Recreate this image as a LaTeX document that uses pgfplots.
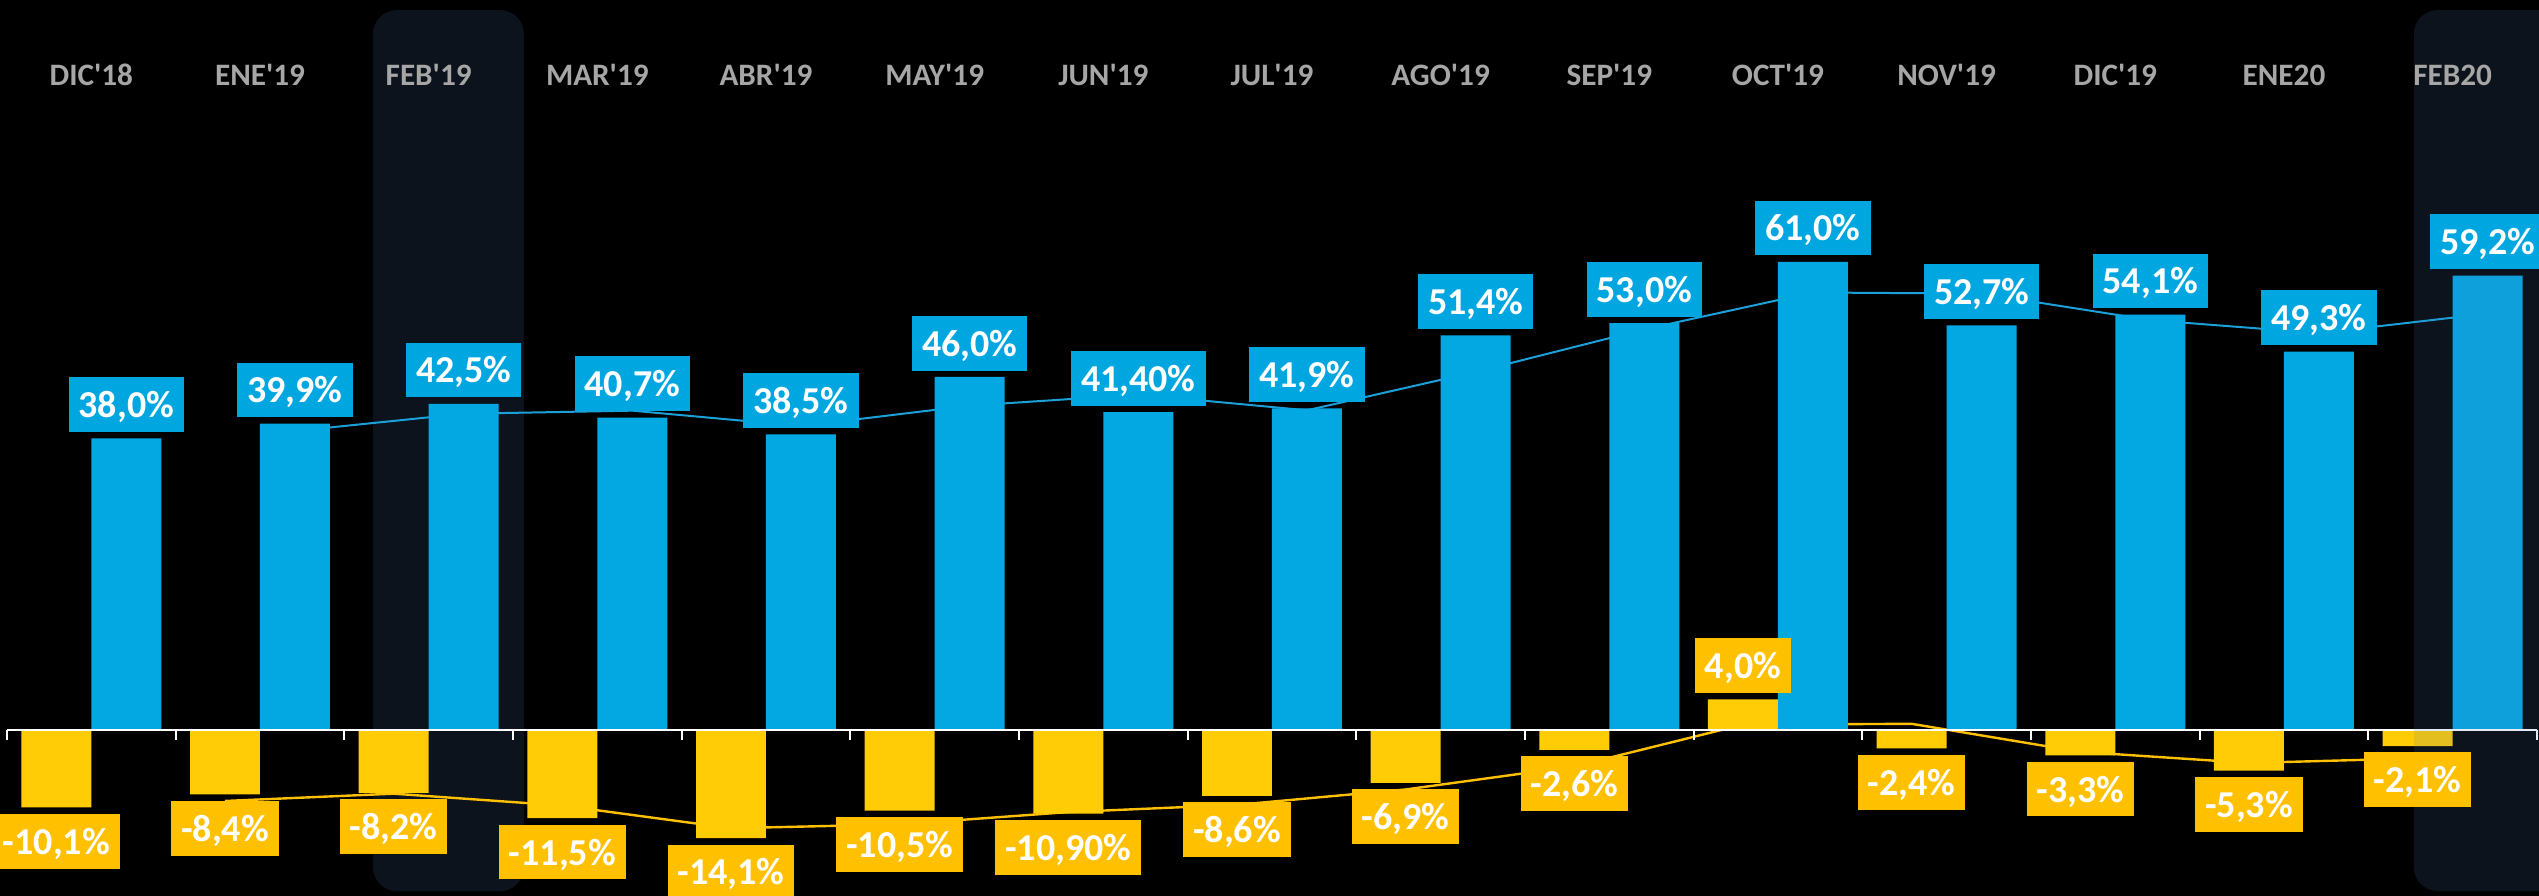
\documentclass[border=0pt]{standalone}
\usepackage{fontspec}
\setmainfont{Carlito}
\usepackage{pgfplots}
\usepackage{pgfplotstable}
\pgfplotsset{compat=1.18}
\definecolor{barblue}{HTML}{03A8E3}
\definecolor{boxblue}{HTML}{00A6E0}
\definecolor{baryel}{HTML}{FFCC05}
\definecolor{boxyel}{HTML}{FFC000}
\definecolor{lineblue}{HTML}{1BA0DA}
\definecolor{lineyel}{HTML}{FFC000}
\definecolor{hl}{HTML}{0C131C}
\definecolor{hlov}{RGB}{77,123,181}
\definecolor{monthgray}{HTML}{A6A6A6}

\pgfplotstableread{
x m b bl y yl
0 DIC\textquotesingle18 38.0 38,0 -10.1 -10,1
1 ENE\textquotesingle19 39.9 39,9 -8.4 -8,4
2 FEB\textquotesingle19 42.5 42,5 -8.2 -8,2
3 MAR\textquotesingle19 40.7 40,7 -11.5 -11,5
4 ABR\textquotesingle19 38.5 38,5 -14.1 -14,1
5 MAY\textquotesingle19 46.0 46,0 -10.5 -10,5
6 JUN\textquotesingle19 41.4 41,40 -10.9 -10,90
7 JUL\textquotesingle19 41.9 41,9 -8.6 -8,6
8 AGO\textquotesingle19 51.4 51,4 -6.9 -6,9
9 SEP\textquotesingle19 53.0 53,0 -2.6 -2,6
10 OCT\textquotesingle19 61.0 61,0 4.0 4,0
11 NOV\textquotesingle19 52.7 52,7 -2.4 -2,4
12 DIC\textquotesingle19 54.1 54,1 -3.3 -3,3
13 ENE20 49.3 49,3 -5.3 -5,3
14 FEB20 59.2 59,2 -2.1 -2,1
}\data

\tikzset{
  lab/.style={fill=#1, text=white, font=\fontsize{9.5}{10}\selectfont\bfseries,
    inner xsep=2.5pt, inner ysep=3.6pt, text height=6.5pt, text depth=0pt, outer sep=1.6pt},
}
\def\anc{south}

\begin{document}
\begin{tikzpicture}
\fill[black] (0,0) rectangle (634.75pt,224pt);
\begin{axis}[
  at={(0,0)}, anchor=south west,
  width=634.75pt, height=224pt, scale only axis,
  xmin=-0.5415, xmax=14.512, ymin=-21.63, ymax=95.11,
  axis lines=none, clip=false,
]
% highlight behind
\fill[hl, rounded corners=6pt] (axis cs:1.67,93.8) rectangle (axis cs:2.565,-21.0);

% moving average lines
\addplot[lineblue, line width=0.5pt, mark=none] coordinates {
(1.2075,38.95) (2.2075,41.2) (3.2075,41.6) (4.2075,39.6) (5.2075,42.25)
(6.2075,43.7) (7.2075,41.65) (8.2075,46.65) (9.2075,52.2) (10.2075,57.0)
(11.2075,56.85) (12.2075,53.4) (13.2075,51.7) (14.2075,54.25)};
\addplot[lineyel, line width=0.6pt, mark=none] coordinates {
(0.7925,-9.25) (1.7925,-8.3) (2.7925,-9.85) (3.7925,-12.8) (4.7925,-12.3)
(5.7925,-10.7) (6.7925,-9.75) (7.7925,-7.75) (8.7925,-4.75) (9.7925,0.7)
(10.7925,0.8) (11.7925,-2.85) (12.7925,-4.3) (13.7925,-3.7)};

% blue bars
\addplot[ybar, bar width=0.415, bar shift=0.2075, fill=barblue, draw=none,
  point meta=explicit symbolic, nodes near coords={\pgfplotspointmeta\%},
  every node near coord/.append style={lab=boxblue, xshift=8.75pt, anchor=south}]
  table[x=x, y=b, meta=bl] {\data};
% yellow bars
\addplot[ybar, bar width=0.415, bar shift=-0.2075, fill=baryel, draw=none,
  point meta=explicit symbolic, nodes near coords={\pgfplotspointmeta\%},
  visualization depends on={y \as \yv},
  every node near coord/.append style={lab=boxyel, xshift=-8.75pt,
    /utils/exec={\pgfmathfloatparsenumber{\yv}\pgfmathfloatgetflagstomacro\pgfmathresult\flg
      \ifnum\flg=2 \gdef\anc{north}\else\gdef\anc{south}\fi},
    anchor=\anc}]
  table[x=x, y=y, meta=yl] {\data};

% month labels
\addplot[draw=none, mark=none, point meta=explicit symbolic, nodes near coords,
  every node near coord/.append style={text=monthgray, inner sep=0pt, outer sep=0pt,
    font=\fontsize{7.8}{9}\selectfont\bfseries}]
  table[x=x, y expr=84, meta=m] {\data};

% x axis line with ticks
\draw[white, line width=0.6pt] (axis cs:-0.5,0) -- (axis cs:14.5,0);
\pgfplotsinvokeforeach{-0.5,0.5,1.5,2.5,3.5,4.5,5.5,6.5,7.5,8.5,9.5,10.5,11.5,12.5,13.5,14.5}{
  \draw[white, line width=0.5pt] (axis cs:#1,0) -- (axis cs:#1,-1.3);
}

% overlay highlight
\fill[hlov, fill opacity=0.155, rounded corners=6pt] (axis cs:13.77,93.8) rectangle (axis cs:14.9,-21.0);
\end{axis}
\pgfresetboundingbox
\path[use as bounding box] (0,0) rectangle (634.75pt,224pt);
\end{tikzpicture}
\end{document}
